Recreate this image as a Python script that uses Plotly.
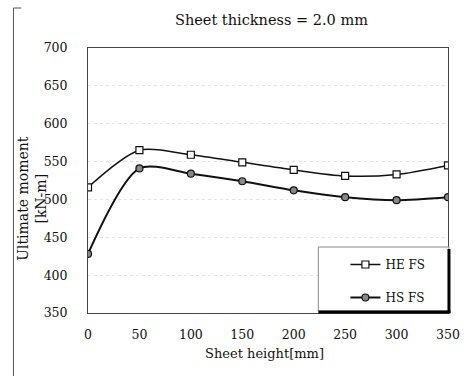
import plotly.graph_objects as go

heights = [0, 50, 100, 150, 200, 250, 300, 350]
he_fs = [516, 565, 559, 549, 539, 531, 533, 545]
hs_fs = [428, 541, 534, 524, 512, 503, 499, 503]
x_ticks = [0, 50, 100, 150, 200, 250, 300, 350]
y_ticks = [350, 400, 450, 500, 550, 600, 650, 700]

FONT = "DejaVu Serif"

fig = go.Figure()
fig.add_trace(go.Scatter(
    x=heights, y=he_fs, name="HE FS", mode="lines+markers",
    line=dict(color="#111", width=1.5, shape="spline", smoothing=0.8),
    marker=dict(symbol="square", size=7, color="white", line=dict(color="#111", width=1.2)),
    legendgroup="a",
))
fig.add_trace(go.Scatter(
    x=heights, y=hs_fs, name="HS FS", mode="lines+markers",
    line=dict(color="#111", width=2, shape="spline", smoothing=0.8),
    marker=dict(symbol="circle", size=7, color="#888", line=dict(color="#111", width=1.2)),
    legendgroup="b",
))

W, H = 471, 376
L, R, T, B = 88, 11, 48, 63
pw, ph = W - L - R, H - T - B

def px(x):
    return (x - L) / pw

def py(y):
    return (H - B - y) / ph

shapes = [
    dict(type="rect", xref="paper", yref="paper", x0=px(326), x1=px(461), y0=py(311), y1=py(247),
         fillcolor="white", line=dict(color="#888", width=1), layer="above"),
    dict(type="line", xref="paper", yref="paper", x0=px(461), x1=px(461), y0=py(249), y1=py(313),
         line=dict(color="black", width=3), layer="above"),
    dict(type="line", xref="paper", yref="paper", x0=px(326), x1=px(462.5), y0=py(312), y1=py(312),
         line=dict(color="black", width=3), layer="above"),
    dict(type="line", xref="paper", yref="paper", x0=px(11), x1=px(11), y0=py(8), y1=py(376),
         line=dict(color="#555", width=1)),
    dict(type="line", xref="paper", yref="paper", x0=px(11), x1=px(19), y0=py(8), y1=py(8),
         line=dict(color="#555", width=1)),
]

fig.update_layout(
    width=W, height=H,
    margin=dict(l=L, r=R, t=T, b=B),
    paper_bgcolor="white", plot_bgcolor="white",
    font=dict(family=FONT, size=13, color="#111"),
    showlegend=True,
    legend=dict(x=px(354), y=py(250), xanchor="left", yanchor="top",
                bgcolor="rgba(0,0,0,0)", borderwidth=0, tracegroupgap=14,
                font=dict(family=FONT, size=12, color="#111")),
    xaxis=dict(range=[0, 350], tickvals=x_ticks, showgrid=False, zeroline=False,
               showline=True, linecolor="#444", linewidth=1, mirror=True,
               ticks="", ticklabelstandoff=10, ticklabeloverflow="allow",
               tickfont=dict(family=FONT, size=12.5)),
    yaxis=dict(range=[350, 700], tickvals=y_ticks, showgrid=True, gridcolor="#e6e6e6",
               griddash="dot", zeroline=False,
               showline=True, linecolor="#444", linewidth=1, mirror=True,
               ticks="", ticklabelstandoff=17, ticklabeloverflow="allow",
               tickfont=dict(family=FONT, size=12.5)),
    shapes=shapes,
    annotations=[
        dict(text="Sheet thickness = 2.0 mm", xref="paper", yref="paper", x=px(278), y=py(20),
             xanchor="center", yanchor="middle",
             showarrow=False, font=dict(family=FONT, size=14.5)),
        dict(text="Sheet height[mm]", xref="paper", yref="paper", x=px(270), y=py(353),
             xanchor="center", yanchor="middle",
             showarrow=False, font=dict(family=FONT, size=13)),
        dict(text="Ultimate moment<br>[kN-m]", xref="paper", yref="paper", x=px(30), y=py(198),
             xanchor="center", yanchor="middle",
             showarrow=False, textangle=-90, font=dict(family=FONT, size=14)),
    ],
)

fig.write_html("out.html")
